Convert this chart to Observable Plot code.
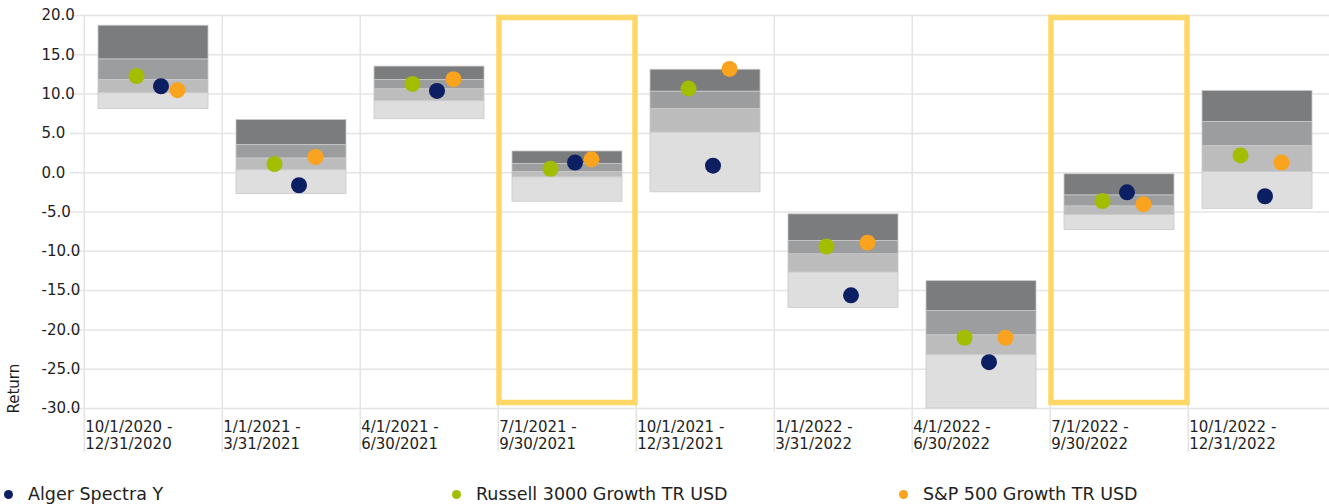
<!DOCTYPE html>
<html>
<head>
<meta charset="utf-8">
<script src="https://cdn.jsdelivr.net/npm/d3@7"></script>
<script src="https://cdn.jsdelivr.net/npm/@observablehq/plot@0.6"></script>
<style>
  html, body { margin: 0; padding: 0; background: #fff; }
  #chart svg { display: block; }
  .legend { display: grid; grid-template-columns: 448px 447px 434px; height: 34px; padding-top: 7px; font-family: "DejaVu Sans", sans-serif; font-size: 17.5px; color: #222; }
  .legend .item { display: flex; align-items: center; padding-left: 4px; white-space: nowrap; }
  .legend .sw { width: 9px; height: 9px; border-radius: 50%; margin-right: 15px; flex: none; }
</style>
</head>
<body>
<div id="chart"></div>
<div id="legend" class="legend"></div>
<script>
// ---- data ----
const periods = [
  "10/1/2020 - 12/31/2020", "1/1/2021 - 3/31/2021", "4/1/2021 - 6/30/2021",
  "7/1/2021 - 9/30/2021", "10/1/2021 - 12/31/2021", "1/1/2022 - 3/31/2022",
  "4/1/2022 - 6/30/2022", "7/1/2022 - 9/30/2022", "10/1/2022 - 12/31/2022"
];
// peer-group percentile boundaries (top -> bottom)
const pTop    = [18.7,  6.7, 13.5,  2.7, 13.1,  -5.3, -13.8, -0.2, 10.4];
const p25     = [14.4,  3.5, 11.8,  1.1, 10.3,  -8.7, -17.6, -2.9,  6.45];
const pMedian = [11.8,  1.8, 10.6,  0.1,  8.1, -10.4, -20.7, -4.3,  3.4];
const p75     = [10.1,  0.3,  9.1, -0.6,  5.1, -12.7, -23.2, -5.4,  0.1];
const pBottom = [ 8.1, -2.7,  6.8, -3.7, -2.5, -17.2, -30.0, -7.3, -4.6];

const seriesNames = ["Alger Spectra Y", "Russell 3000 Growth TR USD", "S&P 500 Growth TR USD"];
const alger   = [11.0, -1.6, 10.4, 1.3,  0.9, -15.6, -24.1, -2.5, -3.0];
const russell = [12.3,  1.1, 11.3, 0.5, 10.7,  -9.4, -21.0, -3.6,  2.2];
const sp500   = [10.5,  2.0, 11.9, 1.7, 13.2,  -8.9, -21.0, -4.0,  1.3];

const highlighted = ["7/1/2021 - 9/30/2021", "7/1/2022 - 9/30/2022"];
const yTicks = [-30, -25, -20, -15, -10, -5, 0, 5, 10, 15, 20];

// ---- styles ----
const seriesColors = ["#0c1f63", "#a3bd00", "#f9a31f"];
const seriesDx = [7.5, -17, 24];
const quartileFills = ["#7b7c7e", "#9c9d9f", "#bcbcbc", "#dedede"];
const gridColor = "#e4e4e4";
const font = "DejaVu Sans, sans-serif";

const W = 1329, H = 470, ML = 82, MR = 0, MT = 15, MB = 62;
const step = (W - ML - MR) / periods.length;

const rows = periods.map((p, i) => ({
  period: p, top: pTop[i], q25: p25[i], med: pMedian[i], q75: p75[i], bot: pBottom[i],
  s0: alger[i], s1: russell[i], s2: sp500[i]
}));
const bounds = [["top", "q25"], ["q25", "med"], ["med", "q75"], ["q75", "bot"]];

const marks = [
  Plot.gridY(yTicks, {stroke: gridColor, strokeOpacity: 1, strokeWidth: 1.5, insetLeft: -12}),
  Plot.gridX(periods, {stroke: gridColor, strokeOpacity: 1, strokeWidth: 1.5, dx: -step / 2, insetBottom: -44}),
  Plot.axisY(yTicks, {tickSize: 0, tickFormat: d => d.toFixed(1), textAnchor: "start", dx: -32,
    fontSize: 15, fill: "#1e1e1e", label: null}),
  Plot.axisX(periods, {tickSize: 0, tickPadding: 12, textAnchor: "start", dx: -step / 2 + 1,
    tickFormat: d => d.replace(" - ", " -\n"), lineHeight: 1.11, fontSize: 15, fill: "#1e1e1e", label: null}),
  Plot.cell(highlighted, {x: d => d, fill: "none", stroke: "#fed766", strokeWidth: 5.5,
    insetLeft: -13, insetRight: -13, insetTop: 2.5, insetBottom: 5.5}),
  ...bounds.map(([a, b], k) => Plot.barY(rows, {x: "period", y1: a, y2: b, fill: quartileFills[k],
    stroke: "#c9c9c9", strokeWidth: 0.8})),
  ...[1, 0, 2].map(k => Plot.dot(rows, {x: "period", y: "s" + k, fill: seriesColors[k], r: 8, dx: seriesDx[k]})),
  Plot.text(["Return"], {frameAnchor: "bottom-left", rotate: -90, textAnchor: "start", lineAnchor: "middle",
    dx: -68, dy: 5, fontSize: 15, fill: "#1e1e1e"})
];

const chart = Plot.plot({
  width: W, height: H,
  marginLeft: ML, marginRight: MR, marginTop: MT, marginBottom: MB,
  style: {fontFamily: font, background: "#fff"},
  x: {domain: periods, paddingInner: 0.2, paddingOuter: 0.1, axis: null},
  y: {domain: [-30, 20], axis: null},
  marks
});
document.getElementById("chart").appendChild(chart);

const legend = document.getElementById("legend");
seriesNames.forEach((name, k) => {
  const item = document.createElement("div");
  item.className = "item";
  const sw = document.createElement("span");
  sw.className = "sw";
  sw.style.background = seriesColors[k];
  item.appendChild(sw);
  item.appendChild(document.createTextNode(name));
  legend.appendChild(item);
});
</script>
</body>
</html>
